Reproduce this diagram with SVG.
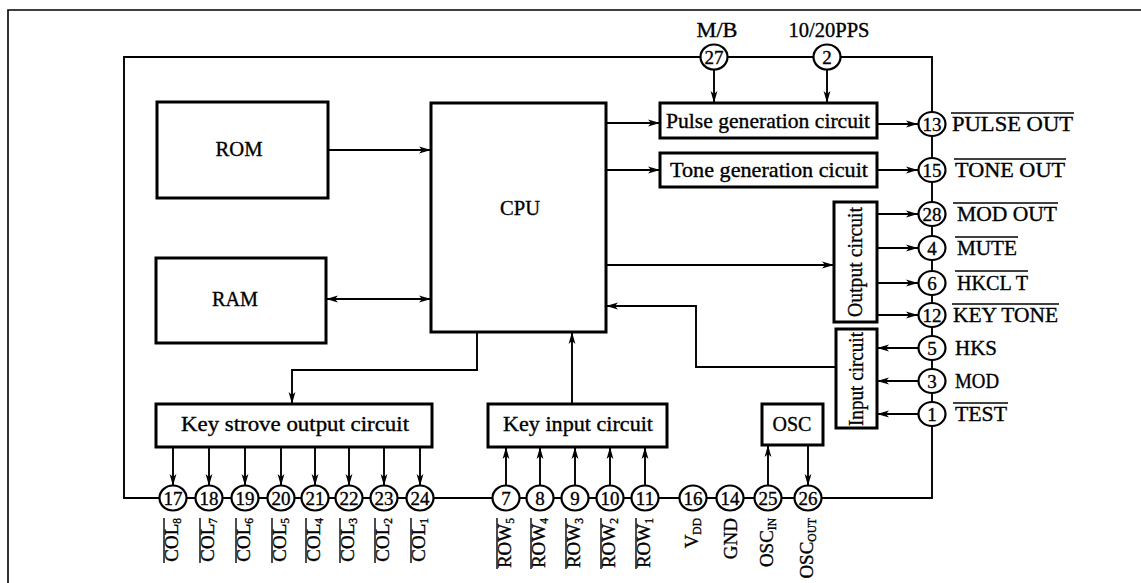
<svg xmlns="http://www.w3.org/2000/svg" width="1141" height="583" viewBox="0 0 1141 583">
<style>
text{font-family:"Liberation Serif","Times New Roman",serif;fill:#000;stroke:#000;stroke-width:0.35}
.box{fill:#fff;stroke:#000;stroke-width:3}
.pin{fill:#fff;stroke:#000;stroke-width:2.2}
.num{font-size:19px;text-anchor:middle}
.bt{font-size:21px;text-anchor:middle}
.rl{font-size:21px}
.bl{font-size:19px;text-anchor:end}
.sub{font-size:11.5px}
.ov{stroke:#000;stroke-width:1.4}
.w{fill:none;stroke:#000;stroke-width:1.9}
.a{fill:none;stroke:#000;stroke-width:1.9;marker-end:url(#ah)}
.frame{fill:none;stroke:#000;stroke-width:1.6}
</style>
<defs>
<marker id="ah" viewBox="0 0 12 8" refX="12" refY="4" markerWidth="12" markerHeight="8" markerUnits="userSpaceOnUse" orient="auto-start-reverse"><path d="M0,0.6 L12,4 L0,7.4 L3,4 Z" fill="#000"/></marker>
</defs>
<rect width="1141" height="583" fill="#fff"/>
<path class="frame" d="M8,583 V10 H1141"/>

<g id="connectors">
<path class="w" d="M124,57 H932 V498 H124 Z"/>
<line class="a" x1="328" y1="150" x2="431" y2="150"/>
<line class="a" x1="326" y1="299" x2="431" y2="299" marker-start="url(#ah)"/>
<line class="a" x1="606" y1="123" x2="660" y2="123"/>
<line class="a" x1="606" y1="170" x2="660" y2="170"/>
<line class="a" x1="606" y1="265" x2="834" y2="265"/>
<polyline class="a" points="836,367 696,367 696,306 606,306"/>
<polyline class="a" points="477,332 477,370 292,370 292,404"/>
<line class="a" x1="572" y1="404" x2="572" y2="332"/>
<line class="a" x1="714" y1="70" x2="714" y2="103"/>
<line class="a" x1="827" y1="70" x2="827" y2="103"/>
<line class="a" x1="877" y1="124" x2="918" y2="124"/>
<line class="a" x1="877" y1="170" x2="918" y2="170"/>
<line class="a" x1="877" y1="214" x2="918" y2="214"/>
<line class="a" x1="877" y1="248" x2="918" y2="248"/>
<line class="a" x1="877" y1="283" x2="918" y2="283"/>
<line class="a" x1="877" y1="315" x2="918" y2="315"/>
<line class="a" x1="918" y1="348" x2="877" y2="348"/>
<line class="a" x1="918" y1="381" x2="877" y2="381"/>
<line class="a" x1="918" y1="414" x2="877" y2="414"/>
<line class="a" x1="173" y1="447" x2="173" y2="486"/>
<line class="a" x1="209" y1="447" x2="209" y2="486"/>
<line class="a" x1="245" y1="447" x2="245" y2="486"/>
<line class="a" x1="281" y1="447" x2="281" y2="486"/>
<line class="a" x1="315" y1="447" x2="315" y2="486"/>
<line class="a" x1="349" y1="447" x2="349" y2="486"/>
<line class="a" x1="384" y1="447" x2="384" y2="486"/>
<line class="a" x1="420" y1="447" x2="420" y2="486"/>
<line class="a" x1="506" y1="486" x2="506" y2="447"/>
<line class="a" x1="540" y1="486" x2="540" y2="447"/>
<line class="a" x1="575" y1="486" x2="575" y2="447"/>
<line class="a" x1="610" y1="486" x2="610" y2="447"/>
<line class="a" x1="645" y1="486" x2="645" y2="447"/>
<line class="a" x1="768" y1="486" x2="768" y2="445"/>
<line class="a" x1="808" y1="445" x2="808" y2="486"/>
</g>

<g id="rom"><rect class="box" x="157" y="102" width="171" height="96"/><text class="bt" x="239" y="156" textLength="47" lengthAdjust="spacingAndGlyphs">ROM</text></g>
<g id="ram"><rect class="box" x="156" y="258" width="170" height="85"/><text class="bt" x="235" y="306" textLength="46" lengthAdjust="spacingAndGlyphs">RAM</text></g>
<g id="cpu"><rect class="box" x="431" y="103" width="175" height="229"/><text class="bt" x="520" y="215" textLength="40" lengthAdjust="spacingAndGlyphs">CPU</text></g>
<g id="pulse"><rect class="box" x="660" y="103" width="217" height="35"/><text class="bt" x="768" y="128" textLength="204" lengthAdjust="spacingAndGlyphs">Pulse generation circuit</text></g>
<g id="tone"><rect class="box" x="660" y="153" width="217" height="34"/><text class="bt" x="769" y="177" textLength="198" lengthAdjust="spacingAndGlyphs">Tone generation cicuit</text></g>
<g id="output"><rect class="box" x="834" y="202" width="43" height="120"/><text class="bt" transform="translate(862,262) rotate(-90)" textLength="110" lengthAdjust="spacingAndGlyphs">Output circuit</text></g>
<g id="input"><rect class="box" x="836" y="329" width="41" height="99"/><text class="bt" transform="translate(863,379) rotate(-90)" textLength="94" lengthAdjust="spacingAndGlyphs">Input circuit</text></g>
<g id="keystrove"><rect class="box" x="156" y="404" width="276" height="43"/><text class="bt" x="295" y="431" textLength="228" lengthAdjust="spacingAndGlyphs">Key strove output circuit</text></g>
<g id="keyinput"><rect class="box" x="488" y="404" width="179" height="43"/><text class="bt" x="578" y="431" textLength="150" lengthAdjust="spacingAndGlyphs">Key input circuit</text></g>
<g id="osc"><rect class="box" x="762" y="404" width="61" height="41"/><text class="bt" x="792" y="431" textLength="39" lengthAdjust="spacingAndGlyphs">OSC</text></g>

<g id="pin27"><ellipse class="pin" cx="714" cy="57" rx="13.5" ry="12.5"/><text class="num" x="714" y="63.5">27</text><text class="bt" x="717" y="37" textLength="41" lengthAdjust="spacingAndGlyphs">M/B</text></g>
<g id="pin2"><ellipse class="pin" cx="827" cy="57" rx="13.5" ry="12.5"/><text class="num" x="827" y="63.5">2</text><text class="bt" x="829" y="37" textLength="81" lengthAdjust="spacingAndGlyphs">10/20PPS</text></g>

<g id="pin13"><ellipse class="pin" cx="932" cy="124" rx="13.5" ry="12"/><text class="num" x="932" y="130.5">13</text><text class="rl" x="952" y="131" textLength="121" lengthAdjust="spacingAndGlyphs">PULSE OUT</text><line class="ov" x1="951" y1="113" x2="1074" y2="113"/></g>
<g id="pin15"><ellipse class="pin" cx="932" cy="170" rx="13.5" ry="12"/><text class="num" x="932" y="176.5">15</text><text class="rl" x="955" y="177" textLength="110" lengthAdjust="spacingAndGlyphs">TONE OUT</text><line class="ov" x1="954" y1="159" x2="1066" y2="159"/></g>
<g id="pin28"><ellipse class="pin" cx="932" cy="214" rx="13.5" ry="12"/><text class="num" x="932" y="220.5">28</text><text class="rl" x="957" y="221" textLength="100" lengthAdjust="spacingAndGlyphs">MOD OUT</text><line class="ov" x1="953" y1="203" x2="1058" y2="203"/></g>
<g id="pin4"><ellipse class="pin" cx="932" cy="248" rx="13.5" ry="12"/><text class="num" x="932" y="254.5">4</text><text class="rl" x="957" y="255" textLength="60" lengthAdjust="spacingAndGlyphs">MUTE</text><line class="ov" x1="955" y1="237" x2="1018" y2="237"/></g>
<g id="pin6"><ellipse class="pin" cx="932" cy="283" rx="13.5" ry="12"/><text class="num" x="932" y="289.5">6</text><text class="rl" x="957" y="290" textLength="71" lengthAdjust="spacingAndGlyphs">HKCL T</text><line class="ov" x1="955" y1="271" x2="1028" y2="271"/></g>
<g id="pin12"><ellipse class="pin" cx="932" cy="315" rx="13.5" ry="12"/><text class="num" x="932" y="321.5">12</text><text class="rl" x="953" y="322" textLength="105" lengthAdjust="spacingAndGlyphs">KEY TONE</text><line class="ov" x1="952" y1="304" x2="1059" y2="304"/></g>
<g id="pin5"><ellipse class="pin" cx="932" cy="348" rx="13.5" ry="12"/><text class="num" x="932" y="354.5">5</text><text class="rl" x="955" y="355" textLength="42" lengthAdjust="spacingAndGlyphs">HKS</text></g>
<g id="pin3"><ellipse class="pin" cx="932" cy="381" rx="13.5" ry="12"/><text class="num" x="932" y="387.5">3</text><text class="rl" x="955" y="388" textLength="44" lengthAdjust="spacingAndGlyphs">MOD</text></g>
<g id="pin1"><ellipse class="pin" cx="932" cy="414" rx="13.5" ry="12"/><text class="num" x="932" y="420.5">1</text><text class="rl" x="955" y="421" textLength="52" lengthAdjust="spacingAndGlyphs">TEST</text><line class="ov" x1="953" y1="403" x2="1008" y2="403"/></g>

<g id="pin17"><ellipse class="pin" cx="173" cy="498" rx="13.5" ry="12.5"/><text class="num" x="173" y="504.5">17</text><text class="bl" transform="translate(178,518) rotate(-90)">COL<tspan class="sub" dy="3">8</tspan></text><line class="ov" x1="164" y1="518" x2="164" y2="563"/></g>
<g id="pin18"><ellipse class="pin" cx="209" cy="498" rx="13.5" ry="12.5"/><text class="num" x="209" y="504.5">18</text><text class="bl" transform="translate(214,518) rotate(-90)">COL<tspan class="sub" dy="3">7</tspan></text><line class="ov" x1="200" y1="518" x2="200" y2="563"/></g>
<g id="pin19"><ellipse class="pin" cx="245" cy="498" rx="13.5" ry="12.5"/><text class="num" x="245" y="504.5">19</text><text class="bl" transform="translate(250,518) rotate(-90)">COL<tspan class="sub" dy="3">6</tspan></text><line class="ov" x1="236" y1="518" x2="236" y2="563"/></g>
<g id="pin20"><ellipse class="pin" cx="281" cy="498" rx="13.5" ry="12.5"/><text class="num" x="281" y="504.5">20</text><text class="bl" transform="translate(286,518) rotate(-90)">COL<tspan class="sub" dy="3">5</tspan></text><line class="ov" x1="272" y1="518" x2="272" y2="563"/></g>
<g id="pin21"><ellipse class="pin" cx="315" cy="498" rx="13.5" ry="12.5"/><text class="num" x="315" y="504.5">21</text><text class="bl" transform="translate(320,518) rotate(-90)">COL<tspan class="sub" dy="3">4</tspan></text><line class="ov" x1="306" y1="518" x2="306" y2="563"/></g>
<g id="pin22"><ellipse class="pin" cx="349" cy="498" rx="13.5" ry="12.5"/><text class="num" x="349" y="504.5">22</text><text class="bl" transform="translate(354,518) rotate(-90)">COL<tspan class="sub" dy="3">3</tspan></text><line class="ov" x1="340" y1="518" x2="340" y2="563"/></g>
<g id="pin23"><ellipse class="pin" cx="384" cy="498" rx="13.5" ry="12.5"/><text class="num" x="384" y="504.5">23</text><text class="bl" transform="translate(389,518) rotate(-90)">COL<tspan class="sub" dy="3">2</tspan></text><line class="ov" x1="375" y1="518" x2="375" y2="563"/></g>
<g id="pin24"><ellipse class="pin" cx="420" cy="498" rx="13.5" ry="12.5"/><text class="num" x="420" y="504.5">24</text><text class="bl" transform="translate(425,518) rotate(-90)">COL<tspan class="sub" dy="3">1</tspan></text><line class="ov" x1="411" y1="518" x2="411" y2="563"/></g>

<g id="pin7"><ellipse class="pin" cx="506" cy="498" rx="13.5" ry="12.5"/><text class="num" x="506" y="504.5">7</text><text class="bl" transform="translate(511,518) rotate(-90)">ROW<tspan class="sub" dy="3">5</tspan></text><line class="ov" x1="497" y1="518" x2="497" y2="569"/></g>
<g id="pin8"><ellipse class="pin" cx="540" cy="498" rx="13.5" ry="12.5"/><text class="num" x="540" y="504.5">8</text><text class="bl" transform="translate(545,518) rotate(-90)">ROW<tspan class="sub" dy="3">4</tspan></text><line class="ov" x1="531" y1="518" x2="531" y2="569"/></g>
<g id="pin9"><ellipse class="pin" cx="575" cy="498" rx="13.5" ry="12.5"/><text class="num" x="575" y="504.5">9</text><text class="bl" transform="translate(580,518) rotate(-90)">ROW<tspan class="sub" dy="3">3</tspan></text><line class="ov" x1="566" y1="518" x2="566" y2="569"/></g>
<g id="pin10"><ellipse class="pin" cx="610" cy="498" rx="13.5" ry="12.5"/><text class="num" x="610" y="504.5">10</text><text class="bl" transform="translate(615,518) rotate(-90)">ROW<tspan class="sub" dy="3">2</tspan></text><line class="ov" x1="601" y1="518" x2="601" y2="569"/></g>
<g id="pin11"><ellipse class="pin" cx="645" cy="498" rx="13.5" ry="12.5"/><text class="num" x="645" y="504.5">11</text><text class="bl" transform="translate(650,518) rotate(-90)">ROW<tspan class="sub" dy="3">1</tspan></text><line class="ov" x1="636" y1="518" x2="636" y2="569"/></g>
<g id="pin16"><ellipse class="pin" cx="693" cy="498" rx="13.5" ry="12.5"/><text class="num" x="693" y="504.5">16</text><text class="bl" transform="translate(698,518) rotate(-90)">V<tspan class="sub" dy="3">DD</tspan></text></g>
<g id="pin14"><ellipse class="pin" cx="730" cy="498" rx="13.5" ry="12.5"/><text class="num" x="730" y="504.5">14</text><text class="bl" transform="translate(737,518) rotate(-90)">GND</text></g>
<g id="pin25"><ellipse class="pin" cx="768" cy="498" rx="13.5" ry="12.5"/><text class="num" x="768" y="504.5">25</text><text class="bl" transform="translate(773,518) rotate(-90)">OSC<tspan class="sub" dy="3">IN</tspan></text></g>
<g id="pin26"><ellipse class="pin" cx="808" cy="498" rx="13.5" ry="12.5"/><text class="num" x="808" y="504.5">26</text><text class="bl" transform="translate(813,518) rotate(-90)">OSC<tspan class="sub" dy="3">OUT</tspan></text></g>
</svg>
